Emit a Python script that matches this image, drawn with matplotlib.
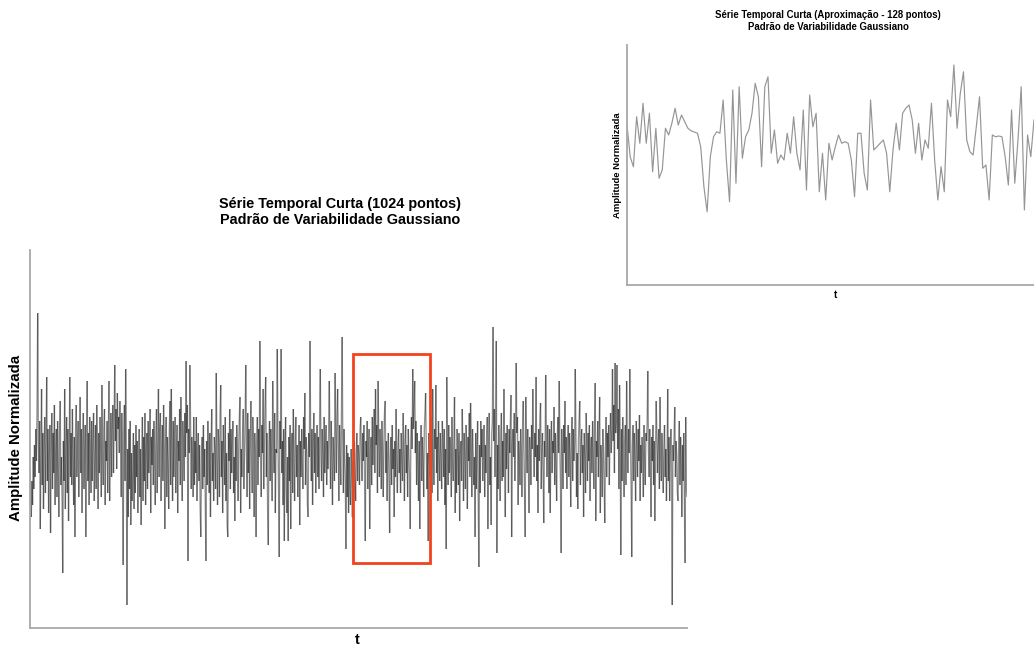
import numpy as np
import matplotlib
matplotlib.use("Agg")
import matplotlib.pyplot as plt
from matplotlib.collections import LineCollection
from matplotlib.patches import Rectangle

plt.rcParams["font.family"] = ["Liberation Sans", "DejaVu Sans"]

# ---- data ---------------------------------------------------------------
# main series, 1024 points (normalized amplitude)
amp_1024 = [
    -0.1, -0.9, -1.3, -0.4, -1.0, 0.2, -0.6, 0.5, -0.3, 0.9, 0.1, 1.4, 3.8, 0.6, -0.2, 1.1, -1.6, 0.3, 1.9, -0.5, 0.8, -1.1, 0.4, 1.2, -0.7, 0.6, 2.2, -0.4, 0.9, -1.2, 0.2, 1.0,
    -1.7, 0.4, 1.3, -0.6, 0.8, -0.2, 1.5, -1.0, 0.3, 0.9, -0.8, 1.1, 0.0, -1.3, 0.7, 1.6, -0.5, 0.2, -0.9, -2.7, 0.6, -0.4, 1.9, -1.1, 0.5, 1.2, -0.7, 0.9, -1.4, 0.3, 2.2, -0.3,
    0.8, -0.5, 1.4, 0.1, -1.0, 0.7, -1.8, 0.9, 1.5, -0.3, 0.6, 1.1, -0.8, 0.4, 1.7, -0.2, 0.9, -1.2, 0.5, 1.3, -0.6, 0.2, 1.0, -1.8, 0.6, 2.1, -0.4, 0.8, -1.0, 1.2, 0.3, -0.7,
    1.1, -0.4, 0.6, 1.3, -0.9, 0.2, 1.0, -0.6, 1.5, 0.4, -1.1, 0.8, -0.2, 1.2, 0.5, -0.8, 2.0, 0.3, -0.5, 0.9, 1.4, -1.0, 0.6, 0.1, 1.1, -0.7, 0.8, 2.1, -0.9, 0.4, 1.3, -0.3,
    0.9, 1.5, -0.2, 1.1, 2.5, 0.6, 1.4, -0.1, 1.8, 0.9, 1.2, 0.3, 1.6, 0.7, -0.8, 1.3, 0.2, -2.5, 0.8, 1.5, -0.4, 2.4, 0.5, -3.5, 0.4, -1.3, 0.9, -0.6, 1.1, -1.5, 0.3, -0.9,
    -0.2, 0.8, -1.1, 0.5, -0.7, 1.0, -0.3, 0.6, -1.2, 0.2, 0.9, -0.8, 0.4, -1.5, 0.1, 1.2, -0.9, 0.7, -0.4, 1.3, -1.0, 0.3, 0.8, -0.6, 1.1, -0.2, 0.5, 1.4, -1.2, 0.7, 0.0, 0.9,
    -0.5, 1.1, 0.3, -1.0, 0.8, 1.4, -0.7, 0.5, 1.9, -0.3, 0.9, 1.3, -0.9, 0.2, 1.0, -0.4, 1.5, 0.6, -1.6, 0.4, 1.2, -0.8, 0.7, 0.1, -1.1, 0.9, 1.6, -0.5, 1.9, 0.2, -0.9, 1.1,
    -0.3, 0.8, 1.2, -0.7, 0.4, 1.0, -1.2, 0.6, 0.1, 1.4, -0.5, 1.7, 0.3, -0.9, 1.1, 0.5, -0.4, 1.3, 0.2, 2.6, 0.8, 1.5, -2.4, 0.9, 0.3, 2.5, 1.0, -0.6, 0.7, 0.2, -0.8, 1.2,
    -0.5, 0.6, -0.2, 1.2, -0.9, 0.3, 0.8, -0.4, 0.5, -1.1, -1.8, 0.2, 0.7, -0.6, 1.0, -0.3, 0.4, -1.0, -2.4, 0.6, -0.5, 1.1, 0.2, -0.7, 0.8, -1.3, 0.5, 1.4, -0.4, 0.3, -0.9, 0.7,
    0.4, -0.6, 2.3, 0.1, -1.0, 0.9, 0.5, -0.8, 1.3, 2.0, -0.3, 0.6, -1.2, 1.0, 0.2, -0.5, 1.2, -0.9, 0.3, -1.5, -1.8, 0.8, 0.1, 1.4, -0.6, 0.9, -0.2, 0.5, 1.1, -0.7, 0.2, -1.4,
    0.7, -0.4, 1.0, 0.3, -0.9, 0.5, 1.2, 1.7, -1.2, 0.4, -0.3, 0.8, 1.4, -0.6, 0.2, 1.1, 2.5, 0.6, -0.8, 1.3, -0.2, 0.9, -1.1, 0.5, 1.6, 0.0, -0.7, 1.2, 0.4, -1.3, 0.8, 0.3,
    -1.8, 0.6, 1.2, -0.5, 0.9, 0.2, 3.1, 0.4, -0.8, 1.0, 0.3, 1.9, -0.6, 0.7, 1.5, 2.2, -0.3, 0.8, -1.1, -2.0, 0.5, 1.1, -0.4, 0.9, 0.2, -0.9, 2.1, 0.6, -0.2, 1.3, -1.2, 0.4,
    0.3, 2.9, 0.8, -0.5, -2.3, 1.1, 0.4, 2.9, -0.2, 0.6, -1.0, 0.9, -1.9, 0.5, 1.2, -0.6, -1.2, 0.2, -1.9, 0.7, -0.4, 1.0, -1.6, 0.3, 0.8, -0.7, 1.4, 0.1, -0.9, 0.6, 1.2, -0.3,
    0.5, -0.8, 0.2, 1.0, -1.5, 0.6, -0.3, 0.9, 0.1, -0.6, 1.2, 0.4, 1.8, -0.5, 0.7, 0.3, -1.0, -1.3, 0.8, 0.2, 3.1, 0.6, -0.4, 0.9, -1.0, 0.5, 1.3, -0.2, 0.8, -0.7, 0.4, 1.0,
    -0.3, 0.7, -0.6, 1.1, 2.4, 0.2, -0.4, 0.9, 0.3, -0.8, 1.2, -0.2, 0.5, 1.0, -0.5, 0.6, -0.1, 0.8, 2.1, 0.4, -0.6, 1.1, 0.2, -1.0, 0.7, 0.3, -0.4, 2.3, 0.9, -0.2, 1.2, 1.9,
    0.4, -0.9, 1.0, 0.2, -0.5, 1.3, 3.2, 0.6, -0.7, 0.9, 0.1, -0.4, -2.1, 0.5, -0.8, 0.3, -1.2, 0.2, -0.6, -1.0, 0.4, -0.3, -1.3, 0.1, -0.7, 0.6, -0.2, -0.9, 0.3, 0.8, -0.4, 0.5,
    0.2, -0.5, 0.9, 1.2, 0.3, -0.4, 0.8, 0.1, 1.0, -0.3, -1.9, 0.6, 0.2, 1.1, -0.6, 0.4, 0.9, -1.6, 0.3, 0.7, -0.5, 1.2, 0.0, 0.8, 1.4, -0.2, 1.9, 0.5, 1.0, -0.7, 2.1, 0.6,
    -0.3, 0.9, 0.4, -0.6, 1.1, 0.2, -0.8, 0.5, 1.3, 1.6, -0.2, 0.6, -0.9, 0.3, 0.8, -0.4, -1.7, 0.2, 0.7, -0.5, 1.0, -0.1, 0.4, -1.3, 0.6, -0.3, 1.4, 0.1, -0.7, 0.5, 0.9, -0.2,
    0.4, -0.7, 0.8, 0.1, -0.4, 1.3, 0.3, -0.9, 0.6, 1.0, -0.2, 0.5, -0.8, 0.9, 0.2, -0.3, -1.6, 0.7, 1.2, 0.4, 2.4, 0.9, 1.5, 2.1, 0.3, 1.1, -0.5, 0.8, 0.0, -0.9, 0.6, -1.6,
    0.5, 1.0, -0.4, 0.7, 0.2, -0.8, 0.9, 1.3, 1.8, 0.4, -0.6, 0.3, -1.9, 0.8, 0.1, -0.3, 1.2, 0.6, -0.7, 1.9, 0.2, -0.5, 0.9, 0.4, 2.0, -0.2, 0.7, -0.9, 1.1, 0.3, -0.4, 0.8,
    0.2, -0.6, 1.1, 0.5, -0.3, 0.9, -1.0, 0.4, -2.1, 2.2, 0.6, -0.5, 1.0, -0.2, 0.7, 0.3, -0.8, 1.2, 0.1, -0.4, 0.6, 1.7, -1.2, 0.4, -0.7, 0.9, 0.2, -0.5, 0.8, -1.4, 0.3, 0.6,
    -0.4, 1.4, 0.5, -0.9, 0.8, 0.2, -0.6, 1.0, 0.4, -1.1, 0.7, 0.1, 1.3, -0.3, 1.55, 0.6, -0.8, 0.9, 0.3, -0.5, 0.2, -1.8, 0.8, -0.6, 0.4, 1.1, -1.0, -2.55, 0.5, -0.7, 1.1, 0.2,
    0.9, -0.4, 0.3, 1.0, -0.8, 0.5, -0.2, 0.7, 1.2, -1.6, 0.4, 1.3, -0.5, 0.2, -1.5, 0.8, 1.1, 3.45, 0.6, 1.4, -0.3, 0.9, 3.1, -2.2, 0.5, -0.6, 1.0, 0.2, -0.9, 0.7, 1.3, -0.4,
    0.6, -0.3, 1.9, 0.2, -1.3, 0.8, -0.1, 1.0, 0.4, -0.7, 0.9, 0.3, 1.1, 1.75, -1.8, 0.5, 0.9, 0.2, 1.3, -0.4, 0.7, 2.55, 0.8, 1.2, -1.0, 0.6, 0.1, -0.5, 0.9, 0.3, -0.8, 1.0,
    1.6, 0.3, -0.6, -1.8, 1.7, 0.5, -0.2, 0.9, 0.1, -1.2, 0.7, 0.3, -0.5, 1.0, 0.4, 1.9, 0.6, -0.3, 0.8, 0.2, 2.2, -0.4, 0.5, -1.2, 0.9, 0.1, 1.2, 1.55, -0.6, 0.4, 0.8, -0.2,
    -1.45, 0.6, 0.2, 2.25, 0.8, -0.3, 1.0, 0.4, -0.7, 0.9, -1.2, 0.5, 1.1, -0.2, 0.6, 0.3, 1.45, -0.5, 0.8, 0.1, -0.9, 0.7, 1.2, 0.3, 2.1, 0.5, -0.4, -2.2, 0.9, 0.2, -0.6, 1.0,
    0.3, 1.6, -0.2, 0.7, -0.6, 0.4, 1.0, -0.3, 0.8, 0.2, -1.05, 0.6, 1.2, -0.4, 0.9, 0.1, 0.5, 2.4, 0.7, -0.8, 0.3, -1.1, 0.6, 1.1, 1.6, -0.5, 0.4, 0.9, -0.2, 0.5, -1.3, 0.8,
    0.2, -0.7, 1.3, 0.5, -0.4, 0.8, 0.1, 1.0, -0.9, 0.4, 0.7, -0.2, 1.1, 0.3, -0.6, 0.9, 2.05, -1.4, 0.6, 0.2, 1.1, -0.3, 0.8, 1.7, -1.2, 0.5, 0.1, -0.8, 0.9, 0.3, -0.5, -1.45,
    0.4, 1.2, -0.3, 0.8, 0.2, 1.0, -0.5, 0.7, 1.3, 0.3, 0.9, 2.4, 0.6, 1.5, -0.2, 2.55, 0.8, 1.1, 2.5, 0.4, 1.4, -0.6, 2.0, 0.5, -2.25, 0.9, -0.4, 1.2, 0.3, -0.8, 0.6, 1.0,
    -0.5, 2.1, 0.6, -0.2, 0.9, 0.3, 2.4, 0.7, -0.6, -2.3, 0.5, 1.0, -0.4, 0.8, 0.2, -0.9, 1.1, 0.4, -0.3, 0.9, 0.1, 1.25, -0.9, 0.5, -0.2, 0.7, 0.3, -0.8, 1.0, 0.2, -0.5, 0.8,
    0.6, 1.1, 2.35, 0.4, -0.3, 0.9, 0.2, -1.3, 0.7, 0.1, 1.0, -0.5, 0.6, -1.4, 0.3, 1.6, 0.8, -0.2, 0.5, 0.9, -0.6, 1.7, 0.2, -0.4, 0.8, 0.1, -0.7, 0.5, 1.0, -0.3, 0.4, -0.9,
    0.2, 1.9, -0.4, 0.7, -0.9, 0.3, 0.9, -0.2, -3.5, 0.5, 0.1, 0.8, 1.45, -0.3, 0.6, 0.2, -0.7, -0.9, 0.4, 1.1, -0.5, 0.7, 0.2, -1.3, 0.5, -0.4, 0.8, -1.0, -2.45, 1.2, -0.6, -0.8,
]

# short series, 128 points (inset)
amp_128 = [
    0.60, -0.67, -1.07, 0.93, -0.13, 1.47, -0.13, 1.07, -1.27, 0.47, -1.53, -1.20, 0.47, 0.20, 0.67, 1.27,
    0.60, 1.00, 0.73, 0.47, 0.37, 0.32, 0.27, -0.27, -1.87, -2.87, -0.67, 0.13, 0.33, 0.27, 1.60, -0.80,
    -2.47, 2.00, -1.73, 2.13, -0.73, 0.13, 0.40, 1.07, 2.27, 1.73, -1.07, 2.13, 2.53, -0.53, 0.40, -0.93,
    -0.60, -0.80, 0.27, -0.53, 0.93, -0.53, -1.20, 1.20, -2.00, 1.80, 0.53, 1.07, -2.07, -0.53, -2.40, -0.13,
    -0.80, -0.27, 0.20, -0.13, -0.07, -0.13, -0.80, -2.27, 0.27, 0.27, -1.33, -2.00, 1.60, -0.40, -0.27, -0.13,
    0.00, -0.53, -2.07, -0.40, 0.67, -0.40, 1.07, 1.27, 1.40, 0.80, -0.53, 0.67, -0.80, 0.00, -0.33, 1.47,
    -0.80, -2.40, -1.07, -2.07, 1.60, 0.93, 3.00, 0.47, 1.87, 2.73, 0.00, -0.47, -0.60, 0.53, 1.73, -1.13,
    -1.00, -2.40, 0.20, 0.13, 0.16, 0.13, -0.67, -1.80, 1.20, -1.73, 0.00, 2.13, -2.80, 0.20, -0.67, 0.80,
]

# highlighted window in the long series (sample index and amplitude range)
box_t = [503, 623]
box_amp = [-2.45, 2.78]

main_title = "Série Temporal Curta (1024 pontos)\nPadrão de Variabilidade Gaussiano"
inset_title = "Série Temporal Curta (Aproximação - 128 pontos)\nPadrão de Variabilidade Gaussiano"
y_label = "Amplitude Normalizada"

# ---- figure ---------------------------------------------------------------
W, H = 1034, 646
fig = plt.figure(figsize=(W / 100, H / 100), dpi=100)


def px_axes(x0, y0, x1, y1):
    # axes from pixel box (top-left origin)
    return fig.add_axes([x0 / W, 1 - y1 / H, (x1 - x0) / W, (y1 - y0) / H])


def style(ax):
    for s in ("top", "right"):
        ax.spines[s].set_visible(False)
    for s in ("left", "bottom"):
        ax.spines[s].set_color("#a8a8a8")
        ax.spines[s].set_linewidth(1.3)
    ax.set_xticks([])
    ax.set_yticks([])
    ax.patch.set_alpha(0)


# main chart
ax = px_axes(30, 250, 687, 628)
style(ax)
t = np.arange(len(amp_1024))
pts = np.column_stack([t, amp_1024])
segs = np.stack([pts[:-1], pts[1:]], axis=1)
ax.add_collection(LineCollection(segs, colors=[(0, 0, 0, 0.42)], linewidths=1.0))
ax.set_xlim(0, len(amp_1024) - 1)
ax.set_ylim(-4.075, 5.375)
ax.add_patch(Rectangle((box_t[0], box_amp[0]), box_t[1] - box_t[0],
                       box_amp[1] - box_amp[0], fill=False,
                       edgecolor="#f2431d", linewidth=2.0, zorder=5))

# inset chart
ax2 = px_axes(627, 45, 1034, 285)
style(ax2)
ax2.plot(np.arange(len(amp_128)), amp_128, color="#959595", lw=0.85)
ax2.set_xlim(0, len(amp_128) - 1)
ax2.set_ylim(-5.8, 3.8)

# texts
fig.text(340 / W, 1 - 212 / H, main_title, ha="center", va="center",
         fontsize=10.4, fontweight="bold", linespacing=1.25)
fig.text(16 / W, 1 - 438 / H, y_label, ha="center", va="center",
         rotation=90, fontsize=10.8, fontweight="bold")
fig.text(357 / W, 1 - 640 / H, "t", ha="center", va="center",
         fontsize=10.5, fontweight="bold")
fig.text(828 / W, 1 - 21 / H, inset_title, ha="center", va="center",
         fontsize=6.9, fontweight="bold", linespacing=1.3)
fig.text(617 / W, 1 - 165 / H, y_label, ha="center", va="center",
         rotation=90, fontsize=6.8, fontweight="bold")
fig.text(836 / W, 1 - 295 / H, "t", ha="center", va="center",
         fontsize=7, fontweight="bold")

fig.savefig("out.png", dpi=100, facecolor="white")
